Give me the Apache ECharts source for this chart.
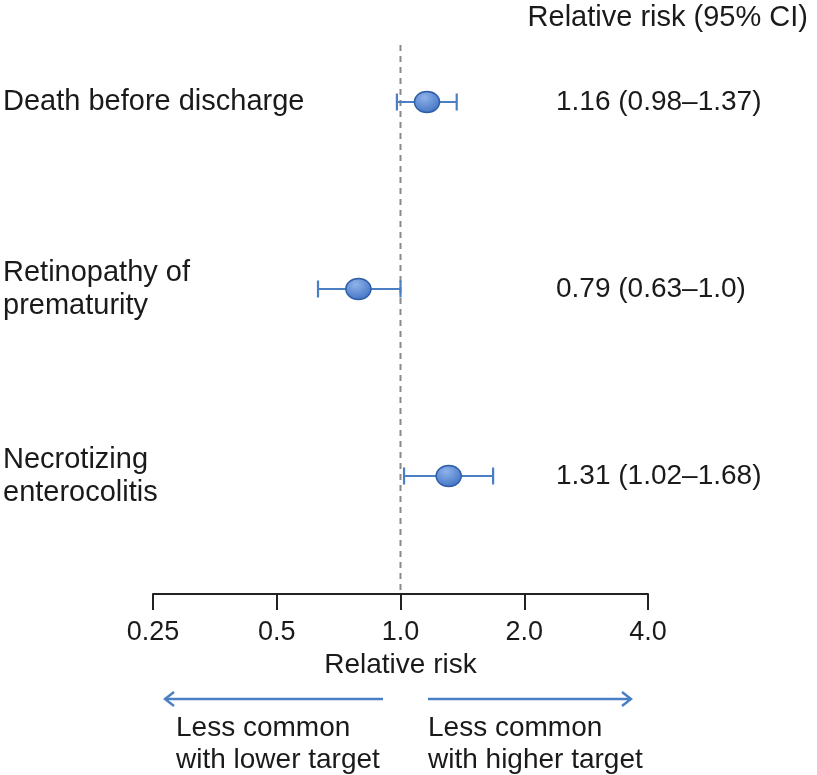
<!DOCTYPE html>
<html><head><meta charset="utf-8">
<script src="https://cdn.jsdelivr.net/npm/echarts@6/dist/echarts.min.js"></script>
<style>html,body{margin:0;padding:0;background:#fff}#c{width:817px;height:775px}</style>
</head><body><div id="c"></div>
<script>
const outcomes = ['Death before discharge', 'Retinopathy of\nprematurity', 'Necrotizing\nenterocolitis'];
const relRisk = [1.16, 0.79, 1.31];
const ciLow = [0.98, 0.63, 1.02];
const ciHigh = [1.37, 1.0, 1.68];
const tickValues = [0.25, 0.5, 1, 2, 4];
const tickLabels = ['0.25', '0.5', '1.0', '2.0', '4.0'];
const refValue = 1;
const headerText = 'Relative risk (95% CI)';
const axisTitle = 'Relative risk';
const leftNote = 'Less common\nwith lower target';
const rightNote = 'Less common\nwith higher target';

const FONT = '"Liberation Sans", Arial, Helvetica, sans-serif';
const TXT = '#1a1a1a';
const BLUE = '#4a7fc4';
const fmt = v => Number.isInteger(v) ? v.toFixed(1) : String(v);
const ciText = outcomes.map((_, i) => `${fmt(relRisk[i])} (${fmt(ciLow[i])}\u2013${fmt(ciHigh[i])})`);

const chart = echarts.init(document.getElementById('c'), null, {renderer: 'canvas'});
chart.setOption({
  animation: false,
  backgroundColor: '#fff',
  title: {
    text: headerText, right: 9, top: 3, padding: 0,
    textStyle: {fontSize: 29, fontWeight: 'normal', color: TXT, fontFamily: FONT}
  },
  grid: {left: 152, right: 169, top: 8.5, bottom: 205.5, containLabel: false},
  xAxis: {
    type: 'log', logBase: 2, min: 0.25, max: 4, offset: 24.5,
    axisLine: {show: true, onZero: false, lineStyle: {color: '#222', width: 2}},
    axisTick: {show: true, length: 16, lineStyle: {color: '#222', width: 2}},
    splitLine: {show: false},
    minorTick: {show: false},
    axisLabel: {
      margin: 25, fontSize: 27, color: TXT, fontFamily: FONT,
      formatter: v => {
        let best = 0;
        tickValues.forEach((t, i) => { if (Math.abs(Math.log2(t) - Math.log2(v)) < Math.abs(Math.log2(tickValues[best]) - Math.log2(v))) best = i; });
        return tickLabels[best];
      }
    },
    name: axisTitle, nameLocation: 'middle', nameGap: 50,
    nameTextStyle: {fontSize: 28, color: TXT, fontFamily: FONT}
  },
  yAxis: [{
    type: 'category', data: outcomes, inverse: true,
    axisLine: {show: false}, axisTick: {show: false}, splitLine: {show: false},
    axisLabel: {align: 'left', margin: 150, fontSize: 29, lineHeight: 33, color: TXT, fontFamily: FONT}
  }, {
    type: 'category', data: ciText, inverse: true, position: 'right', offset: -92,
    axisLine: {show: false}, axisTick: {show: false}, splitLine: {show: false},
    axisLabel: {align: 'left', margin: 0, fontSize: 28, color: TXT, fontFamily: FONT}
  }],
  series: [{
    type: 'custom',
    yAxisIndex: 0,
    encode: {x: [0, 1], y: 2},
    data: outcomes.map((_, i) => [ciLow[i], ciHigh[i], i]),
    z: 3,
    renderItem: (params, api) => {
      const y = api.value(2);
      const p1 = api.coord([api.value(0), y]);
      const p2 = api.coord([api.value(1), y]);
      const h = 8.5;
      const st = {stroke: BLUE, lineWidth: 2.2};
      return {type: 'group', children: [
        {type: 'line', shape: {x1: p1[0], y1: p1[1], x2: p2[0], y2: p2[1]}, style: st},
        {type: 'line', shape: {x1: p1[0], y1: p1[1] - h, x2: p1[0], y2: p1[1] + h}, style: st},
        {type: 'line', shape: {x1: p2[0], y1: p2[1] - h, x2: p2[0], y2: p2[1] + h}, style: st}
      ]};
    }
  }, {
    type: 'scatter',
    yAxisIndex: 0,
    z: 4,
    symbol: 'circle',
    symbolSize: [25, 21],
    data: outcomes.map((_, i) => [relRisk[i], i]),
    itemStyle: {
      color: new echarts.graphic.RadialGradient(0.4, 0.3, 0.75, [
        {offset: 0, color: '#8fb2ea'},
        {offset: 1, color: '#3f71c2'}
      ]),
      borderColor: '#2f5ea8', borderWidth: 1.4, opacity: 1
    }
  }]
});

const xRef = chart.convertToPixel({xAxisIndex: 0}, refValue);
const noteFont = {fontSize: 28, fontFamily: FONT, fill: TXT, lineHeight: 32};
chart.setOption({
  graphic: [
    {type: 'line', z: 1, shape: {x1: xRef, y1: 45, x2: xRef, y2: 593},
     style: {stroke: '#8a8a8a', lineWidth: 2, lineDash: [6, 5]}},
    {type: 'line', shape: {x1: 383, y1: 699, x2: 165, y2: 699}, style: {stroke: BLUE, lineWidth: 2.4}},
    {type: 'polyline', shape: {points: [[174, 692], [165, 699], [174, 706]]}, style: {stroke: BLUE, lineWidth: 2.4, fill: null}},
    {type: 'line', shape: {x1: 428, y1: 699, x2: 631, y2: 699}, style: {stroke: BLUE, lineWidth: 2.4}},
    {type: 'polyline', shape: {points: [[622, 692], [631, 699], [622, 706]]}, style: {stroke: BLUE, lineWidth: 2.4, fill: null}},
    {type: 'text', x: 176, y: 712, style: Object.assign({text: leftNote, verticalAlign: 'top'}, noteFont)},
    {type: 'text', x: 428, y: 712, style: Object.assign({text: rightNote, verticalAlign: 'top'}, noteFont)}
  ]
});
</script>
</body></html>
